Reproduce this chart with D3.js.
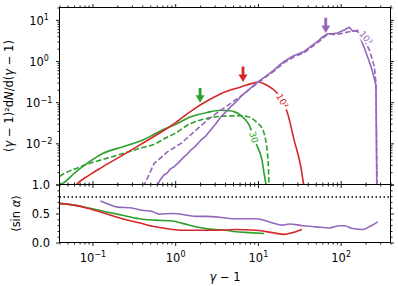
<!DOCTYPE html>
<html><head><meta charset="utf-8">
<script src="https://cdn.jsdelivr.net/npm/d3@7"></script>
<style>body{margin:0;background:#fff} svg text{font-family:"DejaVu Sans",sans-serif;fill:#000}</style>
</head><body><svg id="c" width="398" height="286"></svg>
<script>
// ---------- data ----------
const g30SolidX = [0.040,0.043,0.0625,0.0904,0.1315,0.23,0.40,0.58,0.77,0.97,1.54,2.45,3.56,4.5,5.15,6.2,7.0,7.9,8.9,9.7,11.2,11.9,12.5,12.7];
const g30SolidY = [0.00098,0.00104,0.0020,0.0035,0.0056,0.0082,0.0119,0.0173,0.023,0.0277,0.0442,0.0565,0.0635,0.062,0.059,0.048,0.038,0.027,0.0141,0.009,0.0039,0.0018,0.001,0.0008];
const g30DashX = [0.040,0.043,0.0625,0.0904,0.144,0.23,0.365,0.58,0.77,0.97,1.54,2.45,3.9,6.2,7.48,8.2,9.9,11.4,12.3,13.0,13.4,13.6,13.7];
const g30DashY = [0.00157,0.00173,0.00242,0.00321,0.00425,0.0056,0.00745,0.0099,0.0135,0.017,0.0304,0.0404,0.0459,0.0467,0.0445,0.042,0.031,0.022,0.013,0.006,0.0025,0.001,0.0008];
const r100SolidX = [0.063,0.0655,0.0904,0.1315,0.23,0.40,0.58,0.77,0.97,1.54,2.45,3.9,6.2,9.0,10.3,11.5,13,16.5,19.7,22.8,27.4,33,35.7,36.5];
const r100SolidY = [0.00095,0.00104,0.00166,0.00265,0.0051,0.0099,0.0155,0.022,0.030,0.060,0.108,0.175,0.235,0.295,0.31,0.29,0.255,0.18,0.11,0.054,0.012,0.0027,0.001,0.0008];
const p1000SolidX = [0.60,0.66,0.73,0.80,0.88,0.97,1.08,1.28,1.40,1.54,1.70,2.04,2.3,2.69,3.1,3.56,4.1,4.7,5.4,6.2,7.5,9.0,11,13.1,15.7,18,20.8,27,36.3,44,52.7,60,69.6,80,92,110,127,140,161,193,233,267,273];
const p1000SolidY = [0.0009,0.0013,0.0017,0.0019,0.0024,0.0027,0.0033,0.0047,0.0055,0.0068,0.0080,0.0119,0.0145,0.021,0.030,0.044,0.058,0.078,0.10,0.136,0.19,0.262,0.36,0.46,0.61,0.78,0.975,1.35,1.71,2.3,3.0,3.8,4.6,4.6,4.8,5.7,6.6,5.3,5.3,2.07,0.74,0.26,0.0008];
const p1000DashX = [0.40,0.44,0.554,0.805,1.17,1.69,2.45,3.56,4.7,6.2,9.0,13.1,15.7,20.6,27,35.9,45,55,69.6,83,100,122,161,190,222,255,267,275];
const p1000DashY = [0.0009,0.00114,0.0032,0.0062,0.0099,0.019,0.037,0.064,0.094,0.14,0.25,0.44,0.57,0.91,1.25,1.59,2.2,3.0,4.5,4.4,4.6,5.1,5.6,3.4,1.88,0.74,0.29,0.0008];

const sinRedX = [0.04,0.0625,0.09,0.144,0.23,0.365,0.58,0.93,1.47,2.34,4.08,5.4,9.45,15,20.7,26.2,34];
const sinRedY = [0.675,0.64,0.585,0.50,0.41,0.34,0.27,0.225,0.21,0.21,0.215,0.225,0.21,0.17,0.14,0.17,0.225];
const sinGreenX = [0.04,0.0625,0.09,0.144,0.23,0.365,0.58,0.93,1.22,1.77,2.57,4.08,5.4,7.8,11.9];
const sinGreenY = [0.675,0.64,0.595,0.53,0.47,0.41,0.385,0.37,0.33,0.27,0.23,0.21,0.185,0.17,0.155];
const sinPurpleX = [0.125,0.158,0.2,0.3,0.4,0.52,0.64,0.93,1.4,1.8,2.3,3.7,4.9,9.5,13.7,19.9,23.9,34.7,50,73,96,111,140,185,222,280];
const sinPurpleY = [0.715,0.66,0.61,0.595,0.555,0.54,0.49,0.50,0.47,0.45,0.45,0.43,0.41,0.41,0.355,0.30,0.32,0.29,0.27,0.25,0.29,0.29,0.24,0.225,0.27,0.355];
const sinIso = 0.785;

const arrowX = [2.0, 6.6, 66];
const arrowTipY = [0.097, 0.31, 4.8];
const arrowTailY = [0.22, 0.74, 11.2];

const curveLabels = ["30", "10\u00B2", "10\u00B3"];
const curveLabelX = [8.9, 19.7, 202];
const curveLabelY = [0.0141, 0.107, 3.7];
const curveLabelRot = [72, 60, 50];

const xMajor = [0.1, 1, 10, 100];
const xMajorExp = ["\u22121", "0", "1", "2"];
const yTopMajor = [0.001, 0.01, 0.1, 1, 10];
const yTopLabeled = [0.01, 0.1, 1, 10];
const yTopExp = ["\u22122", "\u22121", "0", "1"];
const yBotMajor = [0, 0.5, 1];
const yBotLabels = ["0.0", "0.5", "1.0"];

const colors = {green:"#2ca02c", red:"#d62728", purple:"#9467bd"};

// ---------- layout ----------
const L = 59.5, R = 390.5, T1 = 7.5, B1 = 184.5, B2 = 242.5;
const x = d3.scaleLog().domain([0.04, 400]).range([L, R]);
const yT = d3.scaleLog().domain([1e-3, 20]).range([B1, T1]);
const yB = d3.scaleLinear().domain([0, 1]).range([B2, B1]);

const svg = d3.select("#c");
const defs = svg.append("defs");
defs.append("clipPath").attr("id","cpT").append("rect").attr("x",L).attr("y",T1).attr("width",R-L).attr("height",B1-T1);
defs.append("clipPath").attr("id","cpB").append("rect").attr("x",L).attr("y",B1).attr("width",R-L).attr("height",B2-B1);

function minorLog(domain, dec0, dec1){
  const out=[];
  for(let d=dec0; d<=dec1; d++) for(let k=2;k<=9;k++){const v=k*Math.pow(10,d); if(v>=domain[0]*0.999 && v<=domain[1]*1.001) out.push(v);}
  return out;
}
const xMinor = minorLog(x.domain(), -2, 2);
const yTMinor = minorLog(yT.domain(), -3, 1);
const yBMinor = d3.range(0, 11).map(i => i/10).filter(v => yBotMajor.indexOf(v) < 0);

const MJ = 3.5, MN = 2;
function axisG(axisFn, scale, vals, size, transform){
  const g = svg.append("g").attr("transform", transform)
    .call(axisFn(scale).tickValues(vals).tickSize(size).tickFormat(() => ""));
  g.select(".domain").remove();
  g.selectAll("line").attr("stroke","#000").attr("stroke-width",0.9);
  return g;
}
// top panel ticks
axisG(d3.axisTop, x, xMajor, MJ, `translate(0,${T1})`);
axisG(d3.axisTop, x, xMinor, MN, `translate(0,${T1})`);
axisG(d3.axisBottom, x, xMajor, MJ, `translate(0,${B1})`);
axisG(d3.axisBottom, x, xMinor, MN, `translate(0,${B1})`);
axisG(d3.axisLeft, yT, yTopMajor, MJ, `translate(${L},0)`);
axisG(d3.axisLeft, yT, yTMinor, MN, `translate(${L},0)`);
axisG(d3.axisRight, yT, yTopMajor, MJ, `translate(${R},0)`);
axisG(d3.axisRight, yT, yTMinor, MN, `translate(${R},0)`);
// bottom panel ticks
axisG(d3.axisTop, x, xMajor, MJ, `translate(0,${B1})`);
axisG(d3.axisTop, x, xMinor, MN, `translate(0,${B1})`);
axisG(d3.axisBottom, x, xMajor, MJ, `translate(0,${B2})`);
axisG(d3.axisBottom, x, xMinor, MN, `translate(0,${B2})`);
axisG(d3.axisLeft, yB, yBotMajor, MJ, `translate(${L},0)`);
axisG(d3.axisLeft, yB, yBMinor, MN, `translate(${L},0)`);
axisG(d3.axisRight, yB, yBotMajor, MJ, `translate(${R},0)`);
axisG(d3.axisRight, yB, yBMinor, MN, `translate(${R},0)`);

// ---------- curves ----------
function toPts(xs, ys){ return xs.map((v,i)=>[v, ys[i]]); }
const lineT = d3.line().x(d=>x(d[0])).y(d=>yT(d[1]));
const lineTs = d3.line().x(d=>x(d[0])).y(d=>yT(d[1])).curve(d3.curveMonotoneX);
const lineB = d3.line().x(d=>x(d[0])).y(d=>yB(d[1])).curve(d3.curveMonotoneX);

const gT = svg.append("g").attr("clip-path","url(#cpT)");
function addLine(g, gen, xs, ys, col, dash){
  g.append("path").attr("d", gen(toPts(xs,ys))).attr("fill","none")
    .attr("stroke", col).attr("stroke-width", 1.6)
    .attr("stroke-linejoin","round")
    .attr("stroke-dasharray", dash ? "5.5,2.4" : null);
}
addLine(gT, lineTs, g30SolidX, g30SolidY, colors.green, false);
addLine(gT, lineTs, g30DashX, g30DashY, colors.green, true);
addLine(gT, lineTs, r100SolidX, r100SolidY, colors.red, false);
addLine(gT, lineT, p1000SolidX, p1000SolidY, colors.purple, false);
addLine(gT, lineT, p1000DashX, p1000DashY, colors.purple, true);

// inline labels
const labCols = [colors.green, colors.red, colors.purple];
curveLabels.forEach((t,i)=>{
  const px = x(curveLabelX[i]), py = yT(curveLabelY[i]);
  svg.append("text").attr("transform",`translate(${px},${py}) rotate(${curveLabelRot[i]})`)
    .attr("text-anchor","middle").attr("dy","0.35em").attr("font-size",9)
    .style("fill", labCols[i]).attr("stroke","#fff").attr("stroke-width",4)
    .attr("paint-order","stroke").text(t);
});

// arrows
const arrowCols = [colors.green, colors.red, colors.purple];
arrowX.forEach((v,i)=>{
  const cx = x(v), tip = yT(arrowTipY[i]), tail = yT(arrowTailY[i]);
  const sw = 1.4, hw = 4.5, hl = 7.5;
  const pts = [[cx-sw,tail],[cx+sw,tail],[cx+sw,tip-hl],[cx+hw,tip-hl],[cx,tip],[cx-hw,tip-hl],[cx-sw,tip-hl]];
  svg.append("path").attr("d", d3.line()(pts)+"Z").attr("fill", arrowCols[i]);
});

// bottom panel
const gB = svg.append("g").attr("clip-path","url(#cpB)");
gB.append("line").attr("x1",L).attr("x2",R).attr("y1",yB(sinIso)).attr("y2",yB(sinIso))
  .attr("stroke","#000").attr("stroke-width",1.5).attr("stroke-dasharray","1.5,2.5");
addLine(gB, lineB, sinGreenX, sinGreenY, colors.green, false);
addLine(gB, lineB, sinRedX, sinRedY, colors.red, false);
addLine(gB, lineB, sinPurpleX, sinPurpleY, colors.purple, false);

// frames
[[T1,B1],[B1,B2]].forEach(([a,b])=>{
  svg.append("rect").attr("x",L).attr("y",a).attr("width",R-L).attr("height",b-a)
    .attr("fill","none").attr("stroke","#000").attr("stroke-width",1);
});

// ---------- labels ----------
const FS = 11.5;
function powLabel(sel, exp){
  sel.append("tspan").text("10");
  sel.append("tspan").attr("dy",-4.5).attr("font-size",8).text(exp);
}
xMajor.forEach((v,i)=>{
  const t = svg.append("text").attr("x", x(v)+0.5).attr("y", 261.5).attr("text-anchor","middle").attr("font-size",FS);
  powLabel(t, xMajorExp[i]);
});
yTopLabeled.forEach((v,i)=>{
  const t = svg.append("text").attr("x", 39).attr("y", yT(v)+4.9).attr("text-anchor","middle").attr("font-size",FS);
  powLabel(t, yTopExp[i]);
});
yBotMajor.forEach((v,i)=>{
  svg.append("text").attr("x", 50).attr("y", yB(v)+4.2).attr("text-anchor","end").attr("font-size",FS).text(yBotLabels[i]);
});

// axis titles
const xl = svg.append("text").attr("x", (L+R)/2).attr("y", 281).attr("text-anchor","middle").attr("font-size",FS);
xl.append("tspan").attr("font-style","italic").text("\u03B3");
xl.append("tspan").text(" \u2212 1");

const yl = svg.append("text").attr("transform",`translate(13,${(T1+B1)/2}) rotate(-90)`).attr("text-anchor","middle").attr("font-size",FS);
yl.append("tspan").text("(");
yl.append("tspan").attr("font-style","italic").text("\u03B3");
yl.append("tspan").text(" \u2212 1)\u00B2d");
yl.append("tspan").attr("font-style","italic").text("N");
yl.append("tspan").text("/d(");
yl.append("tspan").attr("font-style","italic").text("\u03B3");
yl.append("tspan").text(" \u2212 1)");

const yl2 = svg.append("text").attr("transform",`translate(20,${(B1+B2)/2}) rotate(-90)`).attr("text-anchor","middle").attr("font-size",FS);
yl2.append("tspan").text("\u27E8sin ");
yl2.append("tspan").attr("font-style","italic").text("\u03B1");
yl2.append("tspan").text("\u27E9");
</script></body></html>
